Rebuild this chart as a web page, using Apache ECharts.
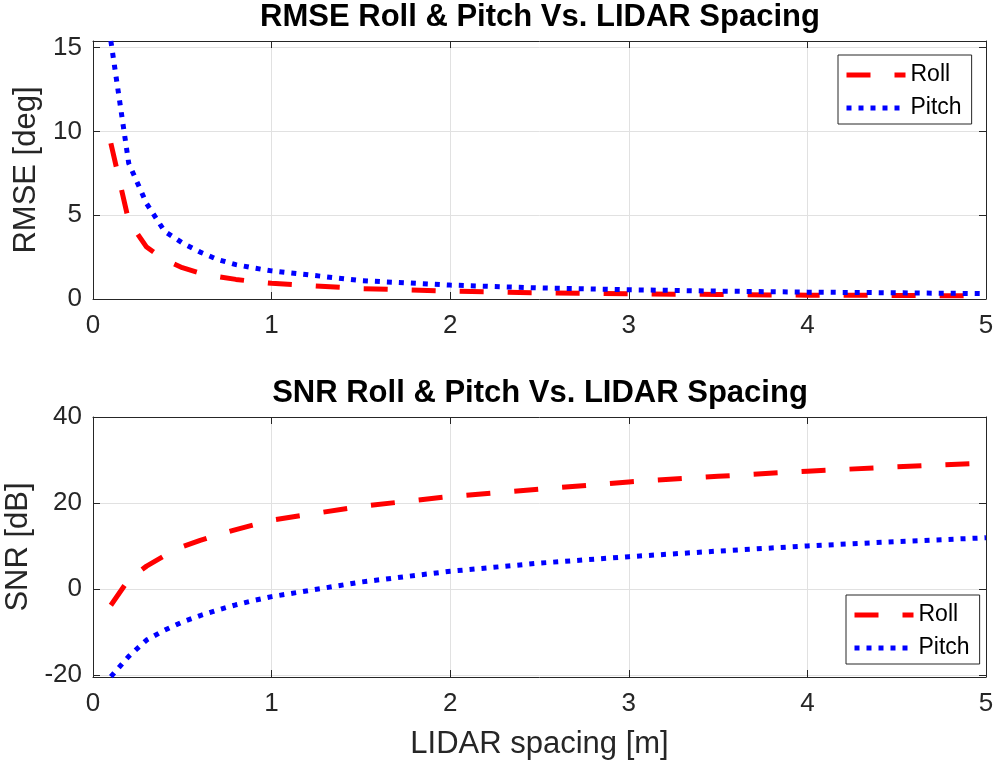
<!DOCTYPE html>
<html>
<head>
<meta charset="utf-8">
<title>RMSE / SNR Roll & Pitch vs. LIDAR Spacing</title>
<script src="https://cdn.jsdelivr.net/npm/echarts@6/dist/echarts.min.js"></script>
<style>
  html, body { margin: 0; padding: 0; background: #ffffff; }
  #chart { width: 1002px; height: 772px; }
</style>
</head>
<body>
<div id="chart"></div>
<script>
// LIDAR spacing [m]
const spacing = [0.1, 0.2, 0.3, 0.4, 0.5, 0.6, 0.7, 0.8, 0.9, 1.0, 1.5, 2.0, 2.5, 3.0, 3.5, 4.0, 4.5, 5.0];

// RMSE [deg]
const rmseRoll  = [9.3, 4.65, 3.1, 2.35, 1.87, 1.55, 1.33, 1.17, 1.04, 0.94, 0.62, 0.47, 0.37, 0.31, 0.27, 0.23, 0.21, 0.19];
const rmsePitch = [15.4, 8.1, 5.7, 4.05, 3.35, 2.8, 2.35, 2.05, 1.85, 1.68, 1.1, 0.83, 0.66, 0.55, 0.47, 0.41, 0.37, 0.32];

// SNR [dB]
const snrRoll  = [-3.8, 2.2, 5.3, 7.7, 9.8, 11.3, 12.6, 13.8, 14.9, 16.0, 19.2, 21.5, 23.2, 24.9, 26.2, 27.4, 28.4, 29.3];
const snrPitch = [-20.4, -15.7, -11.9, -9.6, -7.7, -6.2, -4.9, -3.7, -2.7, -1.8, 1.6, 4.1, 6.0, 7.5, 8.8, 10.0, 11.0, 11.9];

const seriesNames = ['Roll', 'Pitch'];
const titles = ['RMSE Roll & Pitch Vs. LIDAR Spacing', 'SNR Roll & Pitch Vs. LIDAR Spacing'];
const yNames = ['RMSE [deg]', 'SNR [dB]'];
const xName = 'LIDAR spacing [m]';

const FONT = '"Liberation Sans", Arial, Helvetica, sans-serif';
const INK = '#262626';
const GRID_LINE = '#e1e1e1';

const pairs = (ys) => spacing.map((x, i) => [x, ys[i]]);

const rollStyle  = { color: '#ff0000', width: 5, type: [24, 24], cap: 'butt' };
const pitchStyle = { color: '#0000ff', width: 5, type: [5, 7], cap: 'butt' };

function xAxisMain(gridIndex, withName) {
  return {
    type: 'value', gridIndex, min: 0, max: 5, interval: 1,
    axisLine: { show: true, onZero: false, lineStyle: { color: INK, width: 1 } },
    axisTick: { show: true, inside: true, length: 7, lineStyle: { color: INK } },
    axisLabel: { color: INK, fontSize: 26, fontFamily: FONT, margin: 14 },
    splitLine: { show: true, lineStyle: { color: GRID_LINE, width: 1 } },
    name: withName ? xName : '',
    nameLocation: 'middle', nameGap: 52,
    nameTextStyle: { color: INK, fontSize: 31, fontFamily: FONT }
  };
}
function xAxisBox(gridIndex) {
  return {
    type: 'value', gridIndex, position: 'top', min: 0, max: 5, interval: 1,
    axisLine: { show: true, onZero: false, lineStyle: { color: INK, width: 1 } },
    axisTick: { show: true, inside: true, length: 7, lineStyle: { color: INK } },
    axisLabel: { show: false }, splitLine: { show: false }
  };
}
// y ticks come from splitNumber so the nice steps stay anchored at multiples of the step
function yAxisMain(gridIndex, min, max, name, gap) {
  return {
    type: 'value', gridIndex, min, max, splitNumber: 3,
    axisLine: { show: true, onZero: false, lineStyle: { color: INK, width: 1 } },
    axisTick: { show: true, inside: true, length: 7, lineStyle: { color: INK } },
    axisLabel: { color: INK, fontSize: 26, fontFamily: FONT, margin: 11,
                 showMinLabel: min === 0, showMaxLabel: max === 40 },
    splitLine: { show: true, lineStyle: { color: GRID_LINE, width: 1 } },
    name, nameLocation: 'middle', nameGap: gap,
    nameTextStyle: { color: INK, fontSize: 31, fontFamily: FONT }
  };
}
function yAxisBox(gridIndex, min, max) {
  return {
    type: 'value', gridIndex, position: 'right', min, max, splitNumber: 3,
    axisLine: { show: true, onZero: false, lineStyle: { color: INK, width: 1 } },
    axisTick: { show: true, inside: true, length: 7, lineStyle: { color: INK } },
    axisLabel: { show: false }, splitLine: { show: false }
  };
}
function legendAt(left, top) {
  return {
    orient: 'vertical', left, top,
    data: seriesNames,
    backgroundColor: '#ffffff', borderColor: INK, borderWidth: 1, borderRadius: 0,
    padding: [8, 10, 4, 6], itemGap: 9, itemWidth: 59, itemHeight: 14,
    itemStyle: { opacity: 0 },
    lineStyle: { width: 5 },
    textStyle: { color: '#000000', fontSize: 23, fontFamily: FONT, lineHeight: 24 },
    selectedMode: false
  };
}

const chart = echarts.init(document.getElementById('chart'), null, { renderer: 'canvas' });
chart.setOption({
  animation: false,
  backgroundColor: '#ffffff',
  title: [
    { text: titles[0], left: 535, top: -3, textAlign: 'center',
      textStyle: { color: '#000000', fontSize: 31, fontWeight: 'bold', fontFamily: FONT } },
    { text: titles[1], left: 535, top: 373, textAlign: 'center',
      textStyle: { color: '#000000', fontSize: 31, fontWeight: 'bold', fontFamily: FONT } }
  ],
  grid: [
    { left: 93, right: 16, top: 41, height: 258, containLabel: false, outerBoundsMode: 'none' },
    { left: 93, right: 16, top: 417, height: 260, containLabel: false, outerBoundsMode: 'none' }
  ],
  xAxis: [xAxisMain(0, false), xAxisBox(0), xAxisMain(1, true), xAxisBox(1)],
  yAxis: [
    yAxisMain(0, 0, 15.4, yNames[0], 48), yAxisBox(0, 0, 15.4),
    yAxisMain(1, -20.5, 40, yNames[1], 56), yAxisBox(1, -20.5, 40)
  ],
  legend: [legendAt(838, 55), legendAt(846, 595)],
  series: [
    { name: 'Roll', type: 'line', xAxisIndex: 0, yAxisIndex: 0, data: pairs(rmseRoll),
      showSymbol: false, symbol: 'none', color: '#ff0000', lineStyle: rollStyle, z: 3 },
    { name: 'Pitch', type: 'line', xAxisIndex: 0, yAxisIndex: 0, data: pairs(rmsePitch),
      showSymbol: false, symbol: 'none', color: '#0000ff', lineStyle: pitchStyle, z: 4 },
    { name: 'Roll', type: 'line', xAxisIndex: 2, yAxisIndex: 2, data: pairs(snrRoll),
      showSymbol: false, symbol: 'none', color: '#ff0000', lineStyle: rollStyle, z: 3 },
    { name: 'Pitch', type: 'line', xAxisIndex: 2, yAxisIndex: 2, data: pairs(snrPitch),
      showSymbol: false, symbol: 'none', color: '#0000ff', lineStyle: pitchStyle, z: 4 }
  ]
});
</script>
</body>
</html>
